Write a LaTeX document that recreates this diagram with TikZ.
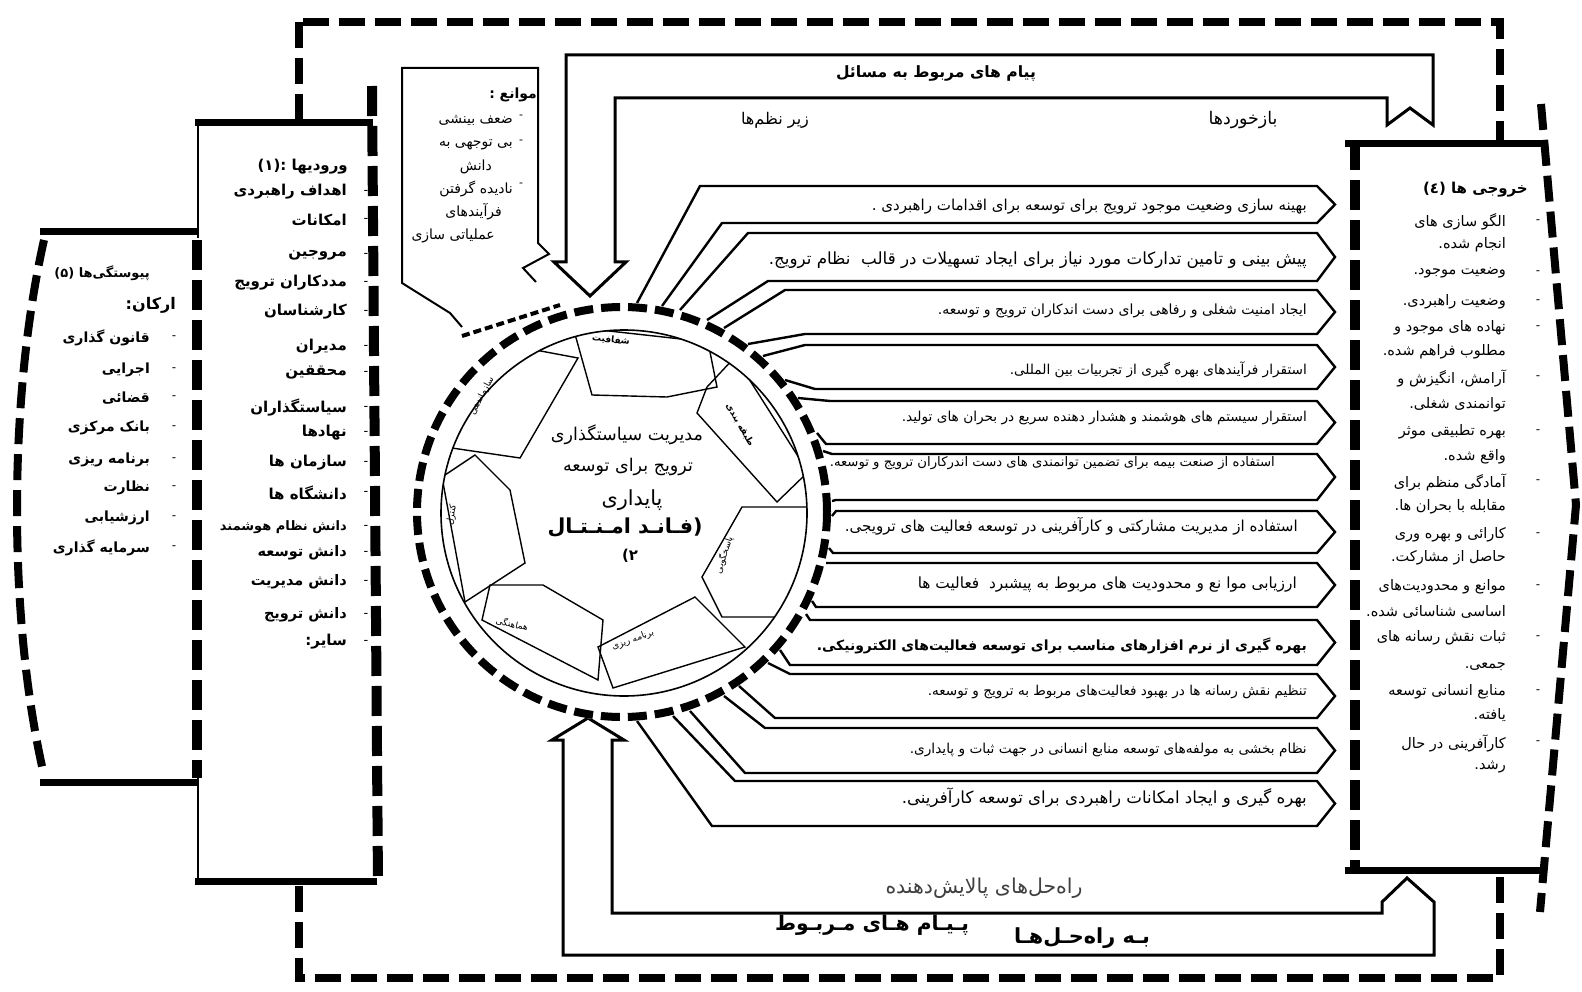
\documentclass[tikz,border=0pt]{standalone}
\usepackage{fontspec}
\usepackage{graphicx}
\newfontfamily\fa[Script=Arabic]{DejaVu Sans}
\TeXXeTstate=1
\newcommand{\prs}[1]{{\fa\beginR #1\endR}}
\newcommand{\fitw}[2]{\resizebox{#1pt}{!}{\prs{#2}}}
\newcommand{\fsz}[1]{\fontsize{#1}{#1}\selectfont}
\usetikzlibrary{calc}
\begin{document}
\begin{tikzpicture}[x=1pt,y=-1pt,
 every node/.style={inner sep=0pt},
 thickdash/.style={line width=8pt,dash pattern=on 26pt off 10pt},
 sidedash/.style={line width=10pt,dash pattern=on 30pt off 10pt},
 ringdash/.style={line width=8pt,dash pattern=on 19pt off 8pt},
 thinline/.style={line width=2pt,line join=miter},
 loopline/.style={line width=3pt,line join=miter},
 bandline/.style={line width=2.4pt,fill=white,line join=miter},
 seg/.style={line width=1.4pt,line join=miter},
 boxtop/.style={line width=7pt},
 lst/.style={anchor=east},
 seglabel/.style={font=\fsz{9}}]
\useasboundingbox (0,0) rectangle (1582,992);
\fill[white] (0,0) rectangle (1582,992);

% outer frame
\draw[thickdash] (299,22) rectangle (1500,978);

% left box
\draw[boxtop] (40,232) -- (198,232);
\draw[boxtop] (40,782) -- (198,782);
\draw[thickdash] (44,240) .. controls (8,400) and (8,620) .. (44,775);

% inputs box
\fill[white] (198,123) rectangle (377,881);
\draw[boxtop] (195,123) -- (373,123);
\draw[boxtop] (195,881) -- (377,881);
\draw[thinline] (198,123) -- (198,238);
\draw[thinline] (198,776) -- (198,881);
\draw[sidedash] (197,240) -- (197,778);
\draw[sidedash] (372,86) -- (378,885);

% outputs box
\fill[white] (1353,144) -- (1541,144) -- (1574,505) -- (1540,870) -- (1353,870) -- cycle;
\draw[boxtop] (1345,144) -- (1543,144);
\draw[boxtop] (1345,870) -- (1541,870);
\draw[sidedash] (1355,140) -- (1355,872);
\draw[thickdash] (1541,104) -- (1576,505) -- (1540,912);

% top feedback loops
\draw[loopline] (566,262) -- (566,55) -- (1433,55) -- (1433,125) -- (1410,108) -- (1387,125) -- (1387,98) -- (615,98) -- (615,262) -- (626,262) -- (590,296) -- (554,262) -- cycle;
% bottom loops
\draw[loopline] (563,740) -- (563,955) -- (1434,955) -- (1434,902) -- (1407,878) -- (1382,902) -- (1382,913) -- (612,913) -- (612,740) -- (624,740) -- (588,718) -- (552,740) -- cycle;

% bands
\foreach \ptx/\pty/\tx/\ty/\bx/\by/\pbx/\pby in {
 637/303/700/186/722/223/662/306,
 680/310/748/233/768/281/707/320,
 724/328/785/290/805/334/748/344,
 763/356/805/345/815/389/785/380,
 798/398/830/401/826/444/817/433,
 823/451/832/454/836/500/832/501,
 832/516/836/511/833/553/829/548,
 826/563/832/563/816/607/812/601,
 806/614/810/620/790/665/780/650,
 768/663/790/674/775/718/739/686,
 724/696/765/728/745/773/690/711,
 673/716/735/781/712/826/637/721}{
 \filldraw[bandline] (\ptx,\pty) -- (\tx,\ty) -- (1317,\ty) -- (1335,{(\ty+\by)/2}) -- (1317,\by) -- (\bx,\by) -- (\pbx,\pby);
}

% circle
\fill[white] (622,512) circle (209pt);
\draw[ringdash] (622,512) circle (205pt);
\begin{scope}
\clip (624,513) circle (183pt);
\draw[seg] (573,327) -- (708,342) -- (717,387) -- (667,397) -- (592,395) -- cycle;
\draw[seg] (735,357) -- (808,472) -- (777,502) -- (697,413) -- (707,387) -- cycle;
\draw[seg] (742,507) -- (812,507) -- (813,617) -- (722,617) -- (702,577) -- cycle;
\draw[seg] (695,597) -- (745,647) -- (613,688) -- (598,647) -- cycle;
\draw[seg] (490,585) -- (543,585) -- (603,620) -- (598,680) -- (482,620) -- cycle;
\draw[seg] (442,477) -- (475,455) -- (510,490) -- (525,563) -- (465,602) -- cycle;
\draw[seg] (482,340) -- (578,358) -- (520,458) -- (445,447) -- cycle;
\end{scope}
\draw[line width=1.6pt] (624,513) circle (183pt);

\node[seglabel,rotate=-6] (sa) at (611,340) {\prs{\bfseries شفافیت}};
\node[seglabel,rotate=-60] (sb) at (740,425) {\prs{\bfseries طبقه بندی}};
\node[seglabel,rotate=72] (sc) at (724,555) {\prs{پاسخگویی}};
\node[seglabel,rotate=20] (sd) at (633,640) {\prs{برنامه ریزی}};
\node[seglabel,rotate=-12] (se) at (512,624) {\prs{هماهنگی}};
\node[seglabel,rotate=80] (sf) at (452,515) {\prs{کنترل}};
\node[seglabel,rotate=62] (sg) at (482,396) {\prs{سازماندهی}};

\node (c1) at (627,435) {\fitw{152}{مدیریت سیاستگذاری}};
\node (c2) at (628,467) {\fitw{130}{ترویج برای توسعه}};
\node (c3) at (632,500) {\fitw{61}{پایداری}};
\node (c4) at (625,528) {\fitw{155}{\bfseries (فـانـد امـنـتـال}};
\node (c5) at (630,556) {\fsz{15}\prs{\bfseries ۲)}};

% obstacles box
\filldraw[thinline,fill=white] (536,282) -- (523,268) -- (549,254) -- (538,243) -- (538,68) -- (402,68) -- (402,283) -- (450,313) -- (462,327);
\draw[line width=4pt,dash pattern=on 8pt off 4pt] (462,336) -- (560,305);
\node[lst] (o0) at (537,95) {\fsz{14}\prs{\bfseries موانع :}};
\node[lst] (o1) at (513,120) {\fsz{14}\prs{ضعف بینشی}};
\node[lst] (o2) at (513,145) {\fsz{14}\prs{بی توجهی به}};
\node[lst] (o3) at (492,167) {\fsz{14}\prs{دانش}};
\node[lst] (o4) at (513,189) {\fsz{14}\prs{نادیده گرفتن}};
\node[lst] (o5) at (502,212) {\fsz{14}\prs{فرآیندهای}};
\node[lst] (o6) at (495,236) {\fsz{14}\prs{عملیاتی سازی}};
\foreach \yy in {117,142,185}{\node (od\yy) at (521,\yy) {\fsz{11}\prs{-}};}

% top texts
\node (tt1) at (936,73) {\fitw{200}{\bfseries پیام های مربوط به مسائل}};
\node (tt2) at (775,120) {\fitw{68}{زیر نظم‌ها}};
\node (tt3) at (1243,120) {\fitw{69}{بازخوردها}};

% bottom texts
\node[text=black!75] (bt1) at (984,888) {\fitw{197}{راه‌حل‌های پالایش‌دهنده}};
\node (bt2) at (872,925) {\fitw{194}{\bfseries پـیـام هـای مـربـوط}};
\node (bt3) at (1082,938) {\fitw{136}{\bfseries بـه راه‌حـل‌هـا}};

% row texts
\node[lst] (r1) at (1307,207) {\fitw{435}{بهینه سازی وضعیت موجود ترویج برای توسعه برای اقدامات راهبردی .}};
\node[lst] (r2) at (1307,260) {\fitw{538}{پیش بینی و تامین تدارکات مورد نیاز برای ایجاد تسهیلات در قالب\ \ نظام ترویج.}};
\node[lst] (r3) at (1307,311) {\fitw{369}{ایجاد امنیت شغلی و رفاهی برای دست اندکاران ترویج و توسعه.}};
\node[lst] (r4) at (1307,370) {\fitw{297}{استقرار فرآیندهای بهره گیری از تجربیات بین المللی.}};
\node[lst] (r5) at (1307,418) {\fitw{405}{استقرار سیستم های هوشمند و هشدار دهنده سریع در بحران های تولید.}};
\node[lst] (r6) at (1275,463) {\fitw{445}{استفاده از صنعت بیمه برای تضمین توانمندی های دست اندرکاران ترویج و توسعه.}};
\node[lst] (r7) at (1298,526) {\fitw{453}{استفاده از مدیریت مشارکتی و کارآفرینی در توسعه فعالیت های ترویجی.}};
\node[lst] (r8) at (1297,585) {\fitw{379}{ارزیابی موا نع و محدودیت های مربوط به پیشبرد\ \ فعالیت ها}};
\node[lst] (r9) at (1307,646) {\fitw{490}{\bfseries بهره گیری از نرم افزارهای مناسب برای توسعه فعالیت‌های الکترونیکی.}};
\node[lst] (r10) at (1307,692) {\fitw{379}{تنظیم نقش رسانه ها در بهبود فعالیت‌های مربوط به ترویج و توسعه.}};
\node[lst] (r11) at (1307,750) {\fitw{397}{نظام بخشی به مولفه‌های توسعه منابع انسانی در جهت ثبات و پایداری.}};
\node[lst] (r12) at (1307,798) {\fitw{405}{بهره گیری و ایجاد امکانات راهبردی برای توسعه کارآفرینی.}};

% inputs list
\node[lst] (ih) at (348,167) {\fsz{15}\prs{\bfseries ورودیها :(۱)}};
\foreach \yy/\tt/\ss [count=\i] in {192/اهداف راهبردی/15,220/امکانات/15,255/مروجین/15,283/مددکاران ترویج/15,312/کارشناسان/15,347/مدیران/15,373/محققین/15,408/سیاستگذاران/15,433/نهادها/15,463/سازمان ها/15,493/دانشگاه ها/15,527/دانش نظام هوشمند/13,553/دانش توسعه/14.5,582/دانش مدیریت/14.5,615/دانش ترویج/14.5,642/سایر:/15}{
 \node[lst] (in\i) at (347,\yy) {\fsz{\ss}\prs{\bfseries \tt}};
 \node (ind\i) at (366,\yy) {\fsz{13}\prs{-}};
}

% left list
\node[lst] (lh) at (150,273) {\fsz{13}\prs{\bfseries پیوستگی‌ها (۵)}};
\node[lst] (lh2) at (176,305) {\fsz{16}\prs{\bfseries ارکان:}};
\foreach \yy/\tt [count=\i] in {338/قانون گذاری,370/اجرایی,398/قضائی,428/بانک مرکزی,460/برنامه ریزی,488/نظارت,518/ارزشیابی,548/سرمایه گذاری}{
 \node[lst] (ln\i) at (150,\yy) {\fsz{14}\prs{\bfseries \tt}};
 \node (lnd\i) at (174,\yy) {\fsz{12}\prs{-}};
}

% outputs list
\node[lst] (oh) at (1528,190) {\fsz{15}\prs{\bfseries خروجی ها (٤)}};
\foreach \yy/\tt [count=\i] in {222/الگو سازی های,245/انجام شده.,273/وضعیت موجود.,302/وضعیت راهبردی.,328/نهاده های موجود و,352/مطلوب فراهم شده.,378/آرامش، انگیزش و,405/توانمندی شغلی.,432/بهره تطبیقی موثر,457/واقع شده.,482/آمادگی منظم برای,507/مقابله با بحران ها.,535/کارائی و بهره وری,558/حاصل از مشارکت.,587/موانع و محدودیت‌های,612/اساسی شناسائی شده.,638/ثبات نقش رسانه های,667/جمعی.,692/منابع انسانی توسعه,715/یافته.,743/کارآفرینی در حال,767/رشد.}{
 \node[lst] (on\i) at (1506,\yy) {\fsz{14.5}\prs{\tt}};
}
\foreach \yy [count=\i] in {222,273,302,328,378,432,482,535,587,638,692,743}{
 \node (ond\i) at (1538,\yy) {\fsz{12}\prs{-}};
}
\end{tikzpicture}
\end{document}
